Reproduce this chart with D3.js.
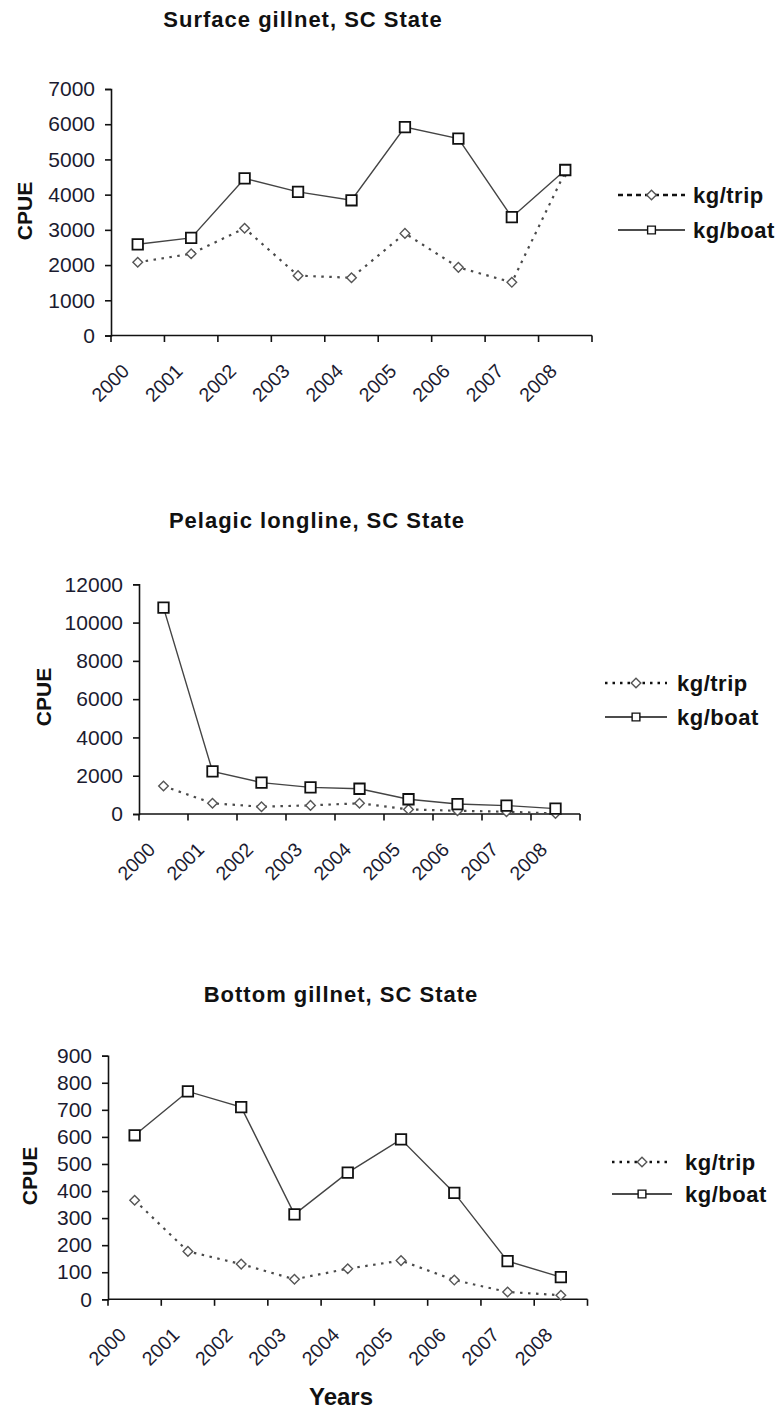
<!DOCTYPE html>
<html>
<head>
<meta charset="utf-8">
<script src="https://cdn.jsdelivr.net/npm/d3@7/dist/d3.min.js"></script>
<style>
  html, body { margin: 0; padding: 0; background: #fff; }
  svg { display: block; font-family: "Liberation Sans", Arial, sans-serif; }
</style>
</head>
<body>
<svg id="chart" width="782" height="1412"></svg>
<script>
// CPUE by year for three SC State fisheries
const years = ["2000", "2001", "2002", "2003", "2004", "2005", "2006", "2007", "2008"];

const surfaceTrip = [2080, 2320, 3045, 1700, 1640, 2900, 1935, 1510, 4650];
const surfaceBoat = [2590, 2770, 4460, 4080, 3840, 5920, 5590, 3360, 4700];
const surfaceTicks = [0, 1000, 2000, 3000, 4000, 5000, 6000, 7000];

const pelagicTrip = [1460, 560, 380, 450, 560, 240, 170, 120, 30];
const pelagicBoat = [10780, 2230, 1640, 1390, 1320, 770, 520, 440, 280];
const pelagicTicks = [0, 2000, 4000, 6000, 8000, 10000, 12000];

const bottomTrip = [366, 177, 130, 74, 113, 143, 71, 27, 15];
const bottomBoat = [606, 768, 710, 314, 468, 591, 393, 141, 82];
const bottomTicks = [0, 100, 200, 300, 400, 500, 600, 700, 800, 900];

const seriesNames = ["kg/trip", "kg/boat"];

const panels = [
  { title: "Surface gillnet, SC State", trip: surfaceTrip, boat: surfaceBoat, ticks: surfaceTicks,
    titleX: 303, titleY: 27, x0: 111, x1: 592, yTop: 89, yBot: 335.5,
    cpueX: 25, cpueY: 211, legX0: 618, legX1: 685, legTextX: 693, legY: [195, 230],
    legDash: "5,4", legDashWidth: 2.6 },
  { title: "Pelagic longline, SC State", trip: pelagicTrip, boat: pelagicBoat, ticks: pelagicTicks,
    titleX: 317, titleY: 528, x0: 139, x1: 580, yTop: 584.3, yBot: 814,
    cpueX: 44, cpueY: 697, legX0: 605, legX1: 667, legTextX: 677, legY: [683, 717],
    legDash: "2.5,5", legDashWidth: 2.4 },
  { title: "Bottom gillnet, SC State", trip: bottomTrip, boat: bottomBoat, ticks: bottomTicks,
    titleX: 341, titleY: 1002, x0: 108, x1: 587.5, yTop: 1055.7, yBot: 1299.3,
    cpueX: 30, cpueY: 1176, legX0: 612, legX1: 672, legTextX: 685, legY: [1162, 1194],
    legDash: "2.5,5", legDashWidth: 2.4,
    xTitle: "Years", xTitleX: 341, xTitleY: 1405 }
];

const svg = d3.select("#chart");
const labelColor = "#1b1b30";

const squarePath = d3.symbol().type(d3.symbolSquare).size(110)();
const legendSquarePath = d3.symbol().type(d3.symbolSquare).size(60)();
const diamondPath = "M0,-4.8L4.8,0L0,4.8L-4.8,0Z";

panels.forEach(p => {
  const g = svg.append("g");
  const x = d3.scaleBand().domain(years).range([p.x0, p.x1]).paddingInner(0).paddingOuter(0);
  const y = d3.scaleLinear().domain([0, d3.max(p.ticks)]).range([p.yBot, p.yTop]);
  const cx = d => x(d) + x.bandwidth() / 2;

  // title
  g.append("text")
    .attr("x", p.titleX).attr("y", p.titleY)
    .attr("text-anchor", "middle")
    .attr("font-size", 22).attr("font-weight", "bold")
    .attr("letter-spacing", 1)
    .attr("fill", "#111")
    .text(p.title);

  // y axis
  const yAxis = g.append("g")
    .attr("transform", `translate(${p.x0},0)`)
    .call(d3.axisLeft(y).tickValues(p.ticks).tickSize(6).tickPadding(10).tickFormat(d3.format("d")));
  yAxis.select(".domain").attr("stroke", "#111").attr("stroke-width", 1.6);
  yAxis.selectAll(".tick line").attr("stroke", "#111").attr("stroke-width", 1.6);
  yAxis.selectAll(".tick text")
    .attr("font-size", 21).attr("fill", labelColor)
    .attr("font-family", "\"Liberation Sans\", Arial, sans-serif");

  // x axis: ticks on category boundaries
  const xAxisG = g.append("g").attr("transform", `translate(0,${p.yBot})`);
  xAxisG.append("line")
    .attr("x1", p.x0).attr("x2", p.x1)
    .attr("stroke", "#111").attr("stroke-width", 1.6);
  const bounds = years.map(d => x(d)).concat([p.x1]);
  xAxisG.selectAll("line.tk").data(bounds).join("line")
    .attr("class", "tk")
    .attr("x1", d => d).attr("x2", d => d)
    .attr("y1", 0).attr("y2", 6.5)
    .attr("stroke", "#111").attr("stroke-width", 1.6);
  xAxisG.selectAll("text").data(years).join("text")
    .attr("transform", d => `translate(${cx(d) - 12},${32}) rotate(-45)`)
    .attr("text-anchor", "end")
    .attr("dy", "0.35em")
    .attr("font-size", 19.5).attr("fill", labelColor)
    .text(d => d);

  // y axis title
  g.append("text")
    .attr("transform", `translate(${p.cpueX},${p.cpueY}) rotate(-90)`)
    .attr("text-anchor", "middle").attr("dy", "0.35em")
    .attr("font-size", 21).attr("font-weight", "bold").attr("fill", "#111")
    .text("CPUE");

  if (p.xTitle) {
    g.append("text")
      .attr("x", p.xTitleX).attr("y", p.xTitleY)
      .attr("text-anchor", "middle")
      .attr("font-size", 24).attr("font-weight", "bold").attr("fill", "#111")
      .text(p.xTitle);
  }

  const line = d3.line().x((v, i) => cx(years[i])).y(v => y(v));

  // kg/boat: solid line with squares
  g.append("path").datum(p.boat)
    .attr("d", line).attr("fill", "none")
    .attr("stroke", "#444").attr("stroke-width", 1.4);
  // kg/trip: dotted line with diamonds
  g.append("path").datum(p.trip)
    .attr("d", line).attr("fill", "none")
    .attr("stroke", "#4a4a4a").attr("stroke-width", 2.2).attr("stroke-dasharray", "2.5,5.5");

  g.selectAll("path.dia").data(p.trip).join("path")
    .attr("class", "dia")
    .attr("d", diamondPath)
    .attr("transform", (v, i) => `translate(${cx(years[i])},${y(v)})`)
    .attr("fill", "#fff").attr("stroke", "#555").attr("stroke-width", 1.4);
  g.selectAll("path.sq").data(p.boat).join("path")
    .attr("class", "sq")
    .attr("d", squarePath)
    .attr("transform", (v, i) => `translate(${cx(years[i])},${y(v)})`)
    .attr("fill", "#fff").attr("stroke", "#111").attr("stroke-width", 1.8);

  // legend
  const lg = g.append("g");
  const midX = (p.legX0 + p.legX1) / 2;
  seriesNames.forEach((name, i) => {
    const ly = p.legY[i];
    lg.append("line")
      .attr("x1", p.legX0).attr("x2", p.legX1).attr("y1", ly).attr("y2", ly)
      .attr("stroke", "#111")
      .attr("stroke-width", i === 0 ? p.legDashWidth : 1.4)
      .attr("stroke-dasharray", i === 0 ? p.legDash : null);
    lg.append("path")
      .attr("d", i === 0 ? diamondPath : legendSquarePath)
      .attr("transform", `translate(${midX},${ly})`)
      .attr("fill", "#fff").attr("stroke", i === 0 ? "#555" : "#111").attr("stroke-width", 1.4);
    lg.append("text")
      .attr("x", p.legTextX).attr("y", ly).attr("dy", "0.35em")
      .attr("font-size", 22).attr("font-weight", "bold").attr("fill", "#111")
      .attr("letter-spacing", 0.5)
      .text(name);
  });
});
</script>
</body>
</html>
